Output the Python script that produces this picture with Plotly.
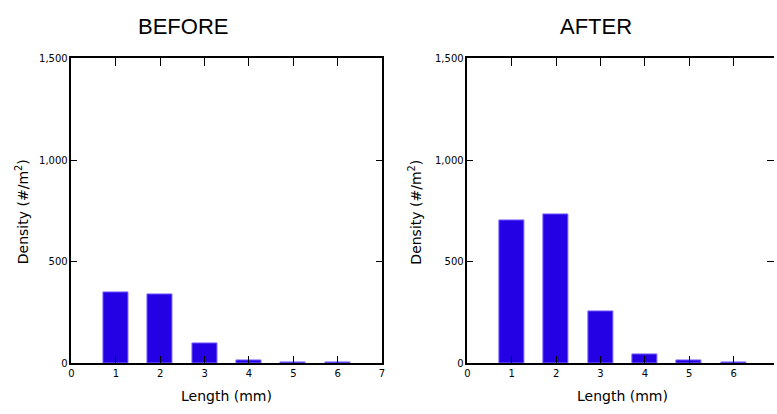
import plotly.graph_objects as go

lengths = [1, 2, 3, 4, 5, 6]
before_density = [350, 341, 99, 15, 4, 4]
after_density = [702, 731, 256, 42, 14, 5]
panel_titles = ["BEFORE", "AFTER"]
x_title = "Length (mm)"
y_title = "Density (#/m<sup>2</sup>)"

W, H = 777, 414
def px_x(p): return p / W
def px_y(p): return 1 - p / H

bar_color = "rgb(36,0,228)"
line_color = "rgb(120,100,255)"
tick_font = dict(family="DejaVu Sans", size=10, color="black")
lab_font = dict(family="DejaVu Sans", size=14, color="black")

fig = go.Figure()
fig.add_trace(go.Bar(x=lengths, y=before_density, width=0.56, xaxis="x", yaxis="y",
                     marker=dict(color=bar_color, line=dict(color=line_color, width=1))))
fig.add_trace(go.Bar(x=lengths, y=after_density, width=0.56, xaxis="x2", yaxis="y2",
                     marker=dict(color=bar_color, line=dict(color=line_color, width=1))))
# invisible trace to host right-side ticks of second panel
fig.add_trace(go.Scatter(x=[None], y=[None], xaxis="x2", yaxis="y3", showlegend=False))

ydom = [px_y(368), px_y(54)]
xcommon = dict(range=[0, 7], dtick=1, tick0=0, ticks="inside", ticklen=8, tickwidth=1.3,
               tickcolor="black", showline=True, linecolor="black", linewidth=1.5,
               mirror="ticks", showgrid=False, zeroline=False, tickfont=tick_font, fixedrange=True)
ycommon = dict(range=[0, 1500], tickvals=[0, 500, 1000, 1500], tickformat=",", ticks="inside",
               ticklen=6, tickwidth=1.3, tickcolor="black", showline=True, linecolor="black",
               linewidth=1.5, showgrid=False, zeroline=False, tickfont=tick_font, fixedrange=True,
               domain=ydom)

x2 = dict(xcommon)
x2["range"] = [0, (777 - 468) / ((382 - 69) / 7)]

fig.update_layout(
    width=W, height=H, margin=dict(l=0, r=0, t=0, b=0),
    paper_bgcolor="white", plot_bgcolor="white", showlegend=False, bargap=0,
    xaxis=dict(xcommon, domain=[px_x(69), px_x(382)], anchor="y"),
    yaxis=dict(ycommon, mirror="ticks", anchor="x"),
    xaxis2=dict(x2, domain=[px_x(468), 1.0], anchor="y2"),
    yaxis2=dict(ycommon, mirror=False, anchor="x2"),
    yaxis3=dict(range=[0, 1500], tickvals=[500, 1000], ticks="inside", ticklen=7,
                tickwidth=1.3, tickcolor="black", showline=False, showgrid=False,
                zeroline=False, showticklabels=False, overlaying="y2", side="right",
                anchor="x2", domain=ydom, fixedrange=True),
)

annotations = [
    dict(text=panel_titles[0], x=px_x(181), y=px_y(21)),
    dict(text=panel_titles[1], x=px_x(598), y=px_y(21)),
]
for a in annotations:
    a.update(xref="paper", yref="paper", showarrow=False, xanchor="center", yanchor="middle",
             font=dict(family="Liberation Sans, Arial", size=22, color="black"))

for xc in [225.5, 624]:
    annotations.append(dict(text=x_title, x=px_x(xc), y=px_y(402), xref="paper", yref="paper",
                            showarrow=False, xanchor="center", yanchor="middle", font=lab_font))
for xc in [19.5, 415]:
    annotations.append(dict(text=y_title, x=px_x(xc), y=px_y(212), xref="paper", yref="paper",
                            showarrow=False, xanchor="center", yanchor="middle", textangle=-90,
                            font=lab_font))
fig.update_layout(annotations=annotations)

fig.write_html("out.html", config={"displayModeBar": False},
               post_script="document.body.style.margin='0';document.body.style.overflow='hidden';")
